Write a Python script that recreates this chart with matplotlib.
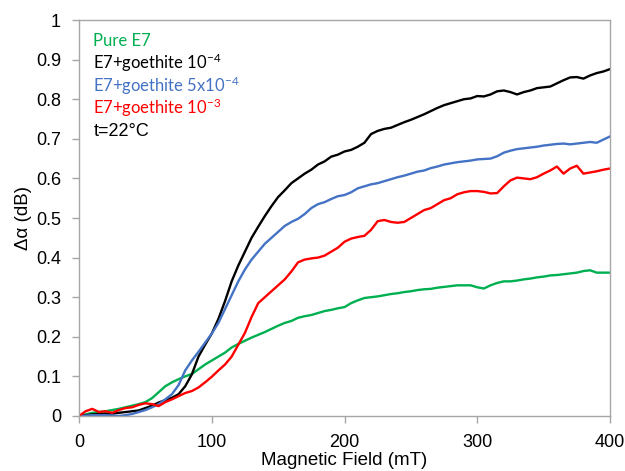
import matplotlib
matplotlib.use("Agg")
import matplotlib.pyplot as plt
from matplotlib.ticker import FuncFormatter

# field values (mT)
field = list(range(0, 401, 5))

# Pure E7
pure_e7 = [
    0.000, 0.004, 0.008, 0.010, 0.012, 0.015, 0.018, 0.022, 0.026, 0.030,
    0.035, 0.045, 0.060, 0.075, 0.085, 0.093, 0.100, 0.106, 0.118, 0.130,
    0.140, 0.150, 0.160, 0.173, 0.182, 0.190, 0.198, 0.205, 0.212, 0.220,
    0.228, 0.235, 0.240, 0.248, 0.252, 0.255, 0.260, 0.265, 0.268, 0.272,
    0.275, 0.285, 0.292, 0.298, 0.300, 0.302, 0.305, 0.308, 0.310, 0.313,
    0.315, 0.318, 0.320, 0.321, 0.324, 0.326, 0.328, 0.330, 0.330, 0.330,
    0.325, 0.322, 0.330, 0.336, 0.340, 0.340, 0.342, 0.345, 0.347, 0.350,
    0.352, 0.355, 0.356, 0.358, 0.360, 0.362, 0.366, 0.368, 0.362, 0.362,
    0.362,
]

# E7 + goethite 1e-4
goethite_1e4 = [
    0.000, 0.002, 0.004, 0.005, 0.006, 0.006, 0.008, 0.010, 0.012, 0.014,
    0.020, 0.026, 0.034, 0.040, 0.046, 0.055, 0.075, 0.105, 0.150, 0.180,
    0.208, 0.245, 0.290, 0.340, 0.380, 0.415, 0.450, 0.478, 0.505, 0.530,
    0.553, 0.570, 0.588, 0.600, 0.612, 0.622, 0.635, 0.643, 0.655, 0.660,
    0.668, 0.672, 0.680, 0.690, 0.712, 0.720, 0.725, 0.728, 0.735, 0.742,
    0.748, 0.755, 0.762, 0.770, 0.778, 0.785, 0.790, 0.795, 0.800, 0.802,
    0.808, 0.807, 0.812, 0.820, 0.822, 0.818, 0.812, 0.818, 0.822, 0.828,
    0.830, 0.832, 0.840, 0.848, 0.855, 0.856, 0.852, 0.860, 0.866, 0.870,
    0.876,
]

# E7 + goethite 5e-4
goethite_5e4 = [
    0.000, 0.001, 0.002, 0.002, 0.002, 0.001, 0.000, 0.002, 0.005, 0.010,
    0.015, 0.022, 0.030, 0.042, 0.055, 0.078, 0.115, 0.140, 0.162, 0.185,
    0.208, 0.235, 0.270, 0.305, 0.340, 0.370, 0.395, 0.415, 0.435, 0.450,
    0.465, 0.480, 0.490, 0.498, 0.510, 0.525, 0.535, 0.540, 0.548, 0.555,
    0.558, 0.565, 0.575, 0.580, 0.585, 0.588, 0.593, 0.598, 0.603, 0.607,
    0.612, 0.617, 0.620, 0.626, 0.630, 0.635, 0.638, 0.641, 0.643, 0.645,
    0.648, 0.649, 0.650, 0.656, 0.665, 0.670, 0.674, 0.676, 0.678, 0.680,
    0.683, 0.685, 0.687, 0.688, 0.686, 0.688, 0.690, 0.692, 0.690, 0.698,
    0.706,
]

# E7 + goethite 1e-3
goethite_1e3 = [
    0.000, 0.012, 0.018, 0.010, 0.012, 0.008, 0.015, 0.020, 0.022, 0.028,
    0.032, 0.030, 0.025, 0.035, 0.042, 0.050, 0.058, 0.063, 0.072, 0.085,
    0.099, 0.115, 0.130, 0.150, 0.180, 0.210, 0.250, 0.285, 0.300, 0.315,
    0.330, 0.345, 0.365, 0.388, 0.395, 0.398, 0.400, 0.405, 0.415, 0.425,
    0.440, 0.448, 0.452, 0.455, 0.470, 0.492, 0.495, 0.490, 0.488, 0.490,
    0.500, 0.510, 0.520, 0.525, 0.535, 0.545, 0.550, 0.560, 0.565, 0.568,
    0.568, 0.566, 0.562, 0.563, 0.580, 0.595, 0.602, 0.600, 0.598, 0.603,
    0.612, 0.620, 0.630, 0.612, 0.625, 0.632, 0.612, 0.615, 0.618, 0.622,
    0.625,
]

labels = [
    "Pure E7",
    r"E7+goethite 10$^{-4}$",
    r"E7+goethite 5x10$^{-4}$",
    r"E7+goethite 10$^{-3}$",
]
colors = ["#00B050", "#000000", "#4472C4", "#FF0000"]

plt.rcParams["font.family"] = ["Liberation Sans", "DejaVu Sans"]
plt.rcParams["mathtext.fontset"] = "custom"
plt.rcParams["mathtext.rm"] = "Lato"
plt.rcParams["mathtext.default"] = "rm"

fig = plt.figure(figsize=(6.25, 4.71), dpi=100)
ax = fig.add_axes([0.1264, 0.1168, 0.8496, 0.8407])

series = [pure_e7, goethite_1e4, goethite_5e4, goethite_1e3]
for ys, c in zip(series, colors):
    ax.plot(field, ys, color=c, lw=1.7)

ax.set_xlim(0, 400)
ax.set_ylim(0, 1)
ax.set_xticks([0, 100, 200, 300, 400])
ax.set_yticks([i / 10 for i in range(11)])
ax.yaxis.set_major_formatter(FuncFormatter(lambda v, p: f"{v:g}"))

for s in ax.spines.values():
    s.set_color("#A6A6A6")
    s.set_linewidth(1.0)
ax.tick_params(colors="#A6A6A6", labelcolor="black", labelsize=13,
               length=5, width=1.0)
ax.tick_params(axis="y", pad=8)
ax.tick_params(axis="x", pad=8)

ax.set_xlabel("Magnetic Field (mT)", fontsize=13.5, labelpad=1)
ax.set_ylabel("Δα (dB)", fontsize=13.5, labelpad=3)

# legend-like text block
ypos = [0.948, 0.891, 0.833, 0.778, 0.718]
for lab, c, y in zip(labels, colors, ypos):
    ax.text(0.027, y, lab, color=c, fontsize=12, family="Lato",
            transform=ax.transAxes, va="center", ha="left")
ax.text(0.027, ypos[4], "t=22°C", color="black", fontsize=13,
        family="Liberation Sans", transform=ax.transAxes, va="center", ha="left")

plt.savefig("out.png", dpi=100)
